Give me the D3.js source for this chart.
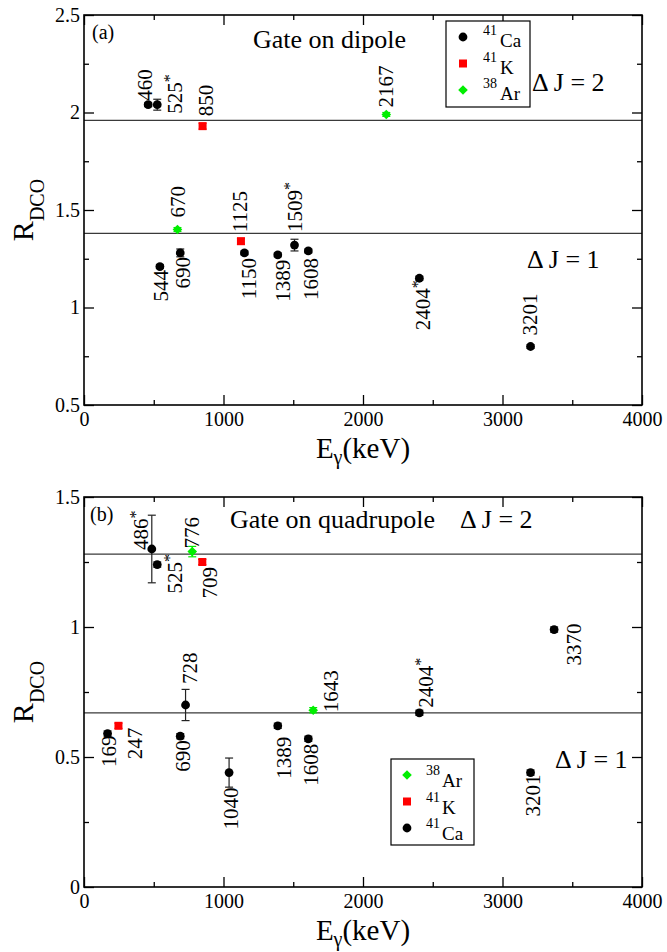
<!DOCTYPE html>
<html><head><meta charset="utf-8">
<script src="https://cdn.jsdelivr.net/npm/d3@7"></script>
<style>
body{margin:0;background:#fff}
svg{display:block}
svg text{fill:#000}
</style>
</head><body>
<svg id="c" width="667" height="952"></svg>
<script>
// ---------- DATA ----------
const xTicks = [0, 1000, 2000, 3000, 4000];
const xMinorTicks = [500, 1500, 2500, 3500];
const aYTicks = [0.5, 1, 1.5, 2, 2.5];
const aYMinor = [0.75, 1.25, 1.75, 2.25];
const bYTicks = [0, 0.5, 1, 1.5];
const bYMinor = [0.25, 0.75, 1.25];

// Panel (a): gate on dipole
const aCaE   = [460, 525, 544, 690, 1150, 1389, 1509, 1608, 2404, 3201];
const aCaR   = [2.04, 2.04, 1.21, 1.28, 1.28, 1.27, 1.32, 1.29, 1.15, 0.80];
const aCaErr = [0.01, 0.028, 0.01, 0.02, 0.01, 0.01, 0.03, 0.01, 0.01, 0.01];
const aCaLab = ["460", "525*", "544", "690", "1150", "1389", "1509*", "1608", "2404*", "3201"];
const aKE    = [850, 1125];
const aKR    = [1.93, 1.34];
const aKErr  = [0.015, 0.015];
const aKLab  = ["850", "1125"];
const aArE   = [670, 2167];
const aArR   = [1.40, 1.99];
const aArErr = [0.01, 0.01];
const aArLab = ["670", "2167"];
const aLines = [1.96, 1.38];

// Panel (b): gate on quadrupole
const bCaE   = [169, 486, 525, 690, 728, 1040, 1389, 1608, 2404, 3201, 3370];
const bCaR   = [0.59, 1.30, 1.24, 0.58, 0.70, 0.44, 0.62, 0.57, 0.67, 0.44, 0.99];
const bCaErr = [0.01, 0.13, 0.01, 0.01, 0.06, 0.056, 0.01, 0.01, 0.01, 0.01, 0.01];
const bCaLab = ["169", "486*", "525*", "690", "728", "1040", "1389", "1608", "2404*", "3201", "3370"];
const bKE    = [247, 848];
const bKR    = [0.62, 1.25];
const bKErr  = [0.01, 0.01];
const bKLab  = ["247", "709"];
const bArE   = [776, 1643];
const bArR   = [1.29, 0.68];
const bArErr = [0.02, 0.01];
const bArLab = ["776", "1643"];
const bLines = [1.28, 0.67];

// ---------- LABEL LAYOUT (pixel offsets, not data) ----------
const aCaPos = [[3.5,-4,"s"],[25,9,"s"],[8,3.5,"e"],[10,4,"e"],[12,5,"e"],[12.7,5,"e"],[7,-13,"s"],[10,7,"e"],[11,2,"e"],[6,-11,"s"]];
const aKPos  = [[10,-10,"s"],[6,-9,"s"]];
const aArPos = [[8,-12,"s"],[7,-7,"s"]];
const bCaPos = [[8,2,"e"],[-4,1,"s"],[25,29,"s"],[10,4,"e"],[11,-21,"s"],[9,15,"e"],[13,11,"e"],[10,5,"e"],[14,-5,"s"],[9,2,"e"],[27,-6,"e"]];
const bKPos  = [[24,2,"e"],[15,5,"e"]];
const bArPos = [[7,-3,"s"],[25,2,"s"]];

// ---------- DRAW ----------
const FONT = '"Liberation Serif","Times New Roman",Times,"DejaVu Serif",serif';
const svg = d3.select("#c");
svg.append("rect").attr("width",667).attr("height",952).attr("fill","#fff");
const X0 = 84, X1 = 642;
const COL = {Ca:"#000000", K:"#ff0000", Ar:"#00ee00"};

function marker(g, type, cx, cy){
  if(type==="Ca") g.append("circle").attr("cx",cx).attr("cy",cy).attr("r",4.4).attr("fill",COL.Ca);
  else if(type==="K") g.append("rect").attr("x",cx-4).attr("y",cy-4).attr("width",8).attr("height",8).attr("fill",COL.K);
  else g.append("path").attr("d",`M${cx},${cy-4.8}L${cx+4.8},${cy}L${cx},${cy+4.8}L${cx-4.8},${cy}Z`).attr("fill",COL.Ar);
}

function panel(cfg){
  const g = svg.append("g").attr("font-family",FONT);
  const x = d3.scaleLinear().domain([0,4000]).range([X0,X1]);
  const y = d3.scaleLinear().domain(cfg.yDomain).range([cfg.bottom,cfg.top]);

  g.selectAll(".ref").data(cfg.lines).join("line")
    .attr("x1",X0).attr("x2",X1).attr("y1",d=>y(d)).attr("y2",d=>y(d))
    .attr("stroke","#3a3a3a").attr("stroke-width",1.3);

  const styleAxis = sel => { sel.attr("font-family",FONT).attr("font-size",20); sel.select(".domain").remove(); sel.selectAll("line").attr("stroke","#000").attr("stroke-width",1.3); sel.selectAll("text").attr("fill","#000"); };
  g.append("g").attr("transform",`translate(0,${cfg.bottom})`)
    .call(d3.axisBottom(x).tickValues(xTicks).tickSize(-10).tickPadding(7).tickFormat(d=>String(d))).call(styleAxis);
  g.append("g").attr("transform",`translate(0,${cfg.bottom})`)
    .call(d3.axisBottom(x).tickValues(xMinorTicks).tickSize(-5).tickFormat("")).call(styleAxis);
  g.append("g").attr("transform",`translate(0,${cfg.top})`)
    .call(d3.axisTop(x).tickValues(xTicks).tickSize(-10).tickFormat("")).call(styleAxis);
  g.append("g").attr("transform",`translate(0,${cfg.top})`)
    .call(d3.axisTop(x).tickValues(xMinorTicks).tickSize(-5).tickFormat("")).call(styleAxis);
  g.append("g").attr("transform",`translate(${X0},0)`)
    .call(d3.axisLeft(y).tickValues(cfg.yTicks).tickSize(-10).tickPadding(4).tickFormat(d=>String(d))).call(styleAxis);
  g.append("g").attr("transform",`translate(${X0},0)`)
    .call(d3.axisLeft(y).tickValues(cfg.yMinor).tickSize(-5).tickFormat("")).call(styleAxis);
  g.append("g").attr("transform",`translate(${X1},0)`)
    .call(d3.axisRight(y).tickValues(cfg.yTicks).tickSize(-10).tickFormat("")).call(styleAxis);
  g.append("g").attr("transform",`translate(${X1},0)`)
    .call(d3.axisRight(y).tickValues(cfg.yMinor).tickSize(-5).tickFormat("")).call(styleAxis);

  g.append("rect").attr("x",X0).attr("y",cfg.top).attr("width",X1-X0).attr("height",cfg.bottom-cfg.top)
    .attr("fill","none").attr("stroke","#000").attr("stroke-width",1.6);

  cfg.series.forEach(s=>{
    s.E.forEach((e,i)=>{
      const cx = x(e), cy = y(s.R[i]);
      const y1 = y(s.R[i]-s.err[i]), y2 = y(s.R[i]+s.err[i]);
      const c = s.type==="Ca" ? "#222" : COL[s.type];
      g.append("line").attr("x1",cx).attr("x2",cx).attr("y1",y1).attr("y2",y2).attr("stroke",c).attr("stroke-width",1.2);
      [y1,y2].forEach(yy=>g.append("line").attr("x1",cx-4).attr("x2",cx+4).attr("y1",yy).attr("y2",yy).attr("stroke",c).attr("stroke-width",1.2));
    });
  });
  cfg.series.forEach(s=>{
    s.E.forEach((e,i)=> marker(g, s.type, x(e), y(s.R[i])));
  });
  cfg.series.forEach(s=>{
    s.lab.forEach((lab,i)=>{
      const p = s.pos[i];
      const cx = x(s.E[i]) + p[0], cy = y(s.R[i]) + p[1];
      const star = lab.endsWith("*");
      const t = g.append("text").attr("transform",`translate(${cx},${cy}) rotate(-90)`)
        .attr("text-anchor", p[2]==="s" ? "start" : "end").attr("font-size",21);
      t.append("tspan").text(star ? lab.slice(0,-1) : lab);
      if(star) t.append("tspan").attr("dy",-7).attr("font-size",16).attr("fill","#000").text("*");
    });
  });

  const xt = g.append("text").attr("x",(X0+X1)/2).attr("y",cfg.bottom+53).attr("text-anchor","middle").attr("font-size",29);
  xt.append("tspan").text("E");
  xt.append("tspan").attr("dy",6).attr("font-size",20).text("γ");
  xt.append("tspan").attr("dy",-6).text("(keV)");
  const yt = g.append("text").attr("transform",`translate(33,${(cfg.top+cfg.bottom)/2}) rotate(-90)`).attr("text-anchor","middle").attr("font-size",30);
  yt.append("tspan").text("R");
  yt.append("tspan").attr("dy",11).attr("font-size",20).text("DCO");

  cfg.texts.forEach(t=> g.append("text").attr("x",t[0]).attr("y",t[1]).attr("font-size",t[3]).text(t[2]));

  const L = cfg.legend;
  g.append("rect").attr("x",L.x).attr("y",L.y).attr("width",L.w).attr("height",L.h).attr("fill","#fff").attr("stroke","#000").attr("stroke-width",1.2);
  L.items.forEach((it,i)=>{
    const sy = L.sy0 + i*L.step;
    marker(g, it[0], L.sx, sy);
    g.append("text").attr("x",L.sx+L.supDx).attr("y",sy+L.supDy).attr("font-size",14).text(it[1]);
    g.append("text").attr("x",L.sx+L.mainDx).attr("y",sy+L.mainDy).attr("font-size",19).text(it[2]);
  });
}

panel({
  yDomain:[0.5,2.5], top:15, bottom:405, yTicks:aYTicks, yMinor:aYMinor, lines:aLines,
  series:[
    {type:"Ca", E:aCaE, R:aCaR, err:aCaErr, lab:aCaLab, pos:aCaPos},
    {type:"K",  E:aKE,  R:aKR,  err:aKErr,  lab:aKLab,  pos:aKPos},
    {type:"Ar", E:aArE, R:aArR, err:aArErr, lab:aArLab, pos:aArPos}
  ],
  texts:[[92,39,"(a)",20],[253,48,"Gate on dipole",26],[532,91,"Δ J = 2",26],[527,268,"Δ J = 1",26]],
  legend:{x:446,y:21,w:84,h:86,sx:463,sy0:37,step:26.5,supDx:20,supDy:-2,mainDx:37,mainDy:10,
    items:[["Ca","41","Ca"],["K","41","K"],["Ar","38","Ar"]]}
});
panel({
  yDomain:[0,1.5], top:497, bottom:887, yTicks:bYTicks, yMinor:bYMinor, lines:bLines,
  series:[
    {type:"Ca", E:bCaE, R:bCaR, err:bCaErr, lab:bCaLab, pos:bCaPos},
    {type:"K",  E:bKE,  R:bKR,  err:bKErr,  lab:bKLab,  pos:bKPos},
    {type:"Ar", E:bArE, R:bArR, err:bArErr, lab:bArLab, pos:bArPos}
  ],
  texts:[[90,521,"(b)",20],[230,528,"Gate on quadrupole",26],[460,528,"Δ J = 2",26],[555,768,"Δ J = 1",26]],
  legend:{x:391,y:759,w:83,h:86,sx:407,sy0:775,step:26.5,supDx:19,supDy:0,mainDx:35,mainDy:12,
    items:[["Ar","38","Ar"],["K","41","K"],["Ca","41","Ca"]]}
});
</script>
</body></html>
